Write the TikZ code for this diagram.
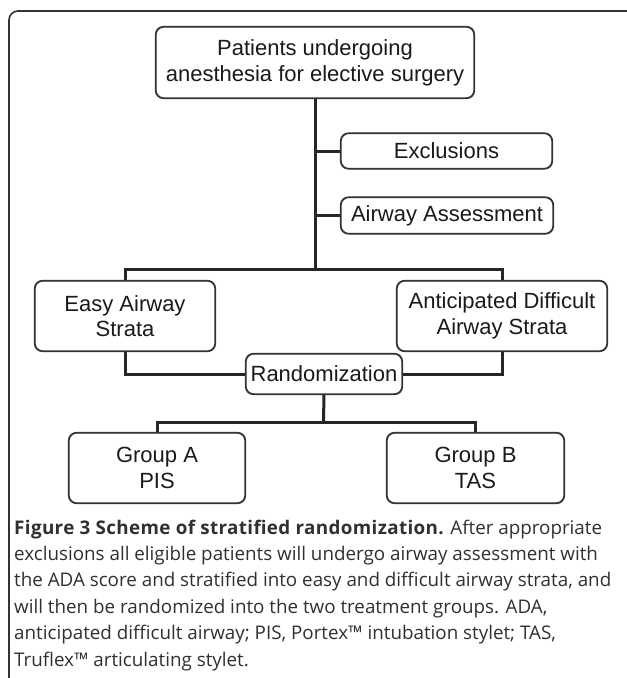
\documentclass[tikz,border=0pt]{standalone}
\usepackage{fontspec}
\setmainfont{Liberation Sans}
\newfontfamily\capfont{Open Sans}
\usetikzlibrary{calc}
\definecolor{boxline}{HTML}{333333}
\definecolor{txt}{HTML}{1A1A1A}
\definecolor{captxt}{HTML}{303030}
\tikzset{
  box/.style={draw=boxline, line width=1.1pt, rounded corners=8pt, fill=white,
    text=txt, align=center, inner sep=0pt,
    font=\fontsize{22}{25.7}\selectfont},
  link/.style={draw=black!85, line width=3pt},
  frame/.style={draw=black!80, line width=1.6pt, rounded corners=9pt}
}
\begin{document}
\begin{tikzpicture}[x=1pt,y=-1pt]
\useasboundingbox (0,0) rectangle (627,678);
\fill[white] (0,0) rectangle (627,678);
% outer frame
\draw[frame] (627,11) -- (9,11) -- (9,679);
% junction points
\coordinate (hub) at (315,269);
\coordinate (hubb) at (323.5,422);
% boxes
\node[box, minimum width=318pt, minimum height=71pt] (top) at (315,62.5)
  {Patients undergoing\\anesthesia for elective surgery};
\node[box, minimum width=211pt, minimum height=35pt] (excl) at (446.5,151)
  {Exclusions};
\node[box, minimum width=212pt, minimum height=36pt] (assess) at (447,215.5)
  {Airway Assessment};
\node[box, minimum width=180pt, minimum height=70pt] (easy) at (125,316)
  {Easy Airway\\Strata};
\node[box, minimum width=210pt, minimum height=70pt] (ant) at (502,316)
  {Anticipated Difficult\\Airway Strata};
\node[box, minimum width=156pt, minimum height=40pt] (rand) at (324,374)
  {Randomization};
\node[box, minimum width=176pt, minimum height=70pt] (ga) at (157,468)
  {Group A\\PIS};
\node[box, minimum width=177pt, minimum height=70pt] (gb) at (475.5,468)
  {Group B\\TAS};
% connectors
\draw[link] (top.south) -- (hub);
\draw[link] (top.south |- excl.west) -- (excl.west);
\draw[link] (top.south |- assess.west) -- (assess.west);
\draw[link] (easy.north) |- (hub) -| (ant.north);
\draw[link] (easy.south) |- (rand.west);
\draw[link] (ant.south) |- (rand.east);
\draw[link] (rand.south) -- (hubb);
\draw[link] (ga.north) |- (hubb) -| (gb.north);
% redraw box outlines over connector ends
\foreach \n in {top,excl,assess,easy,ant,rand,ga,gb}{
  \draw[draw=boxline, line width=1.1pt, rounded corners=8pt] (\n.south west) rectangle (\n.north east);
}
% caption (base anchor = baseline of last line)
\node[anchor=base west, inner sep=0pt, align=left, text=captxt,
  font=\capfont\fontsize{18.8}{26.4}\selectfont] (cap) at (14,666)
  {{\bfseries\addfontfeature{LetterSpace=2}Figure 3 Scheme of stratified randomization.} After appropriate\\
   exclusions all eligible patients will undergo airway assessment with\\
   the ADA score and stratified into easy and difficult airway strata, and\\
   will then be randomized into the two treatment groups. ADA,\\
   anticipated difficult airway; PIS, Portex™ intubation stylet; TAS,\\
   Truflex™ articulating stylet.};
\end{tikzpicture}
\end{document}
